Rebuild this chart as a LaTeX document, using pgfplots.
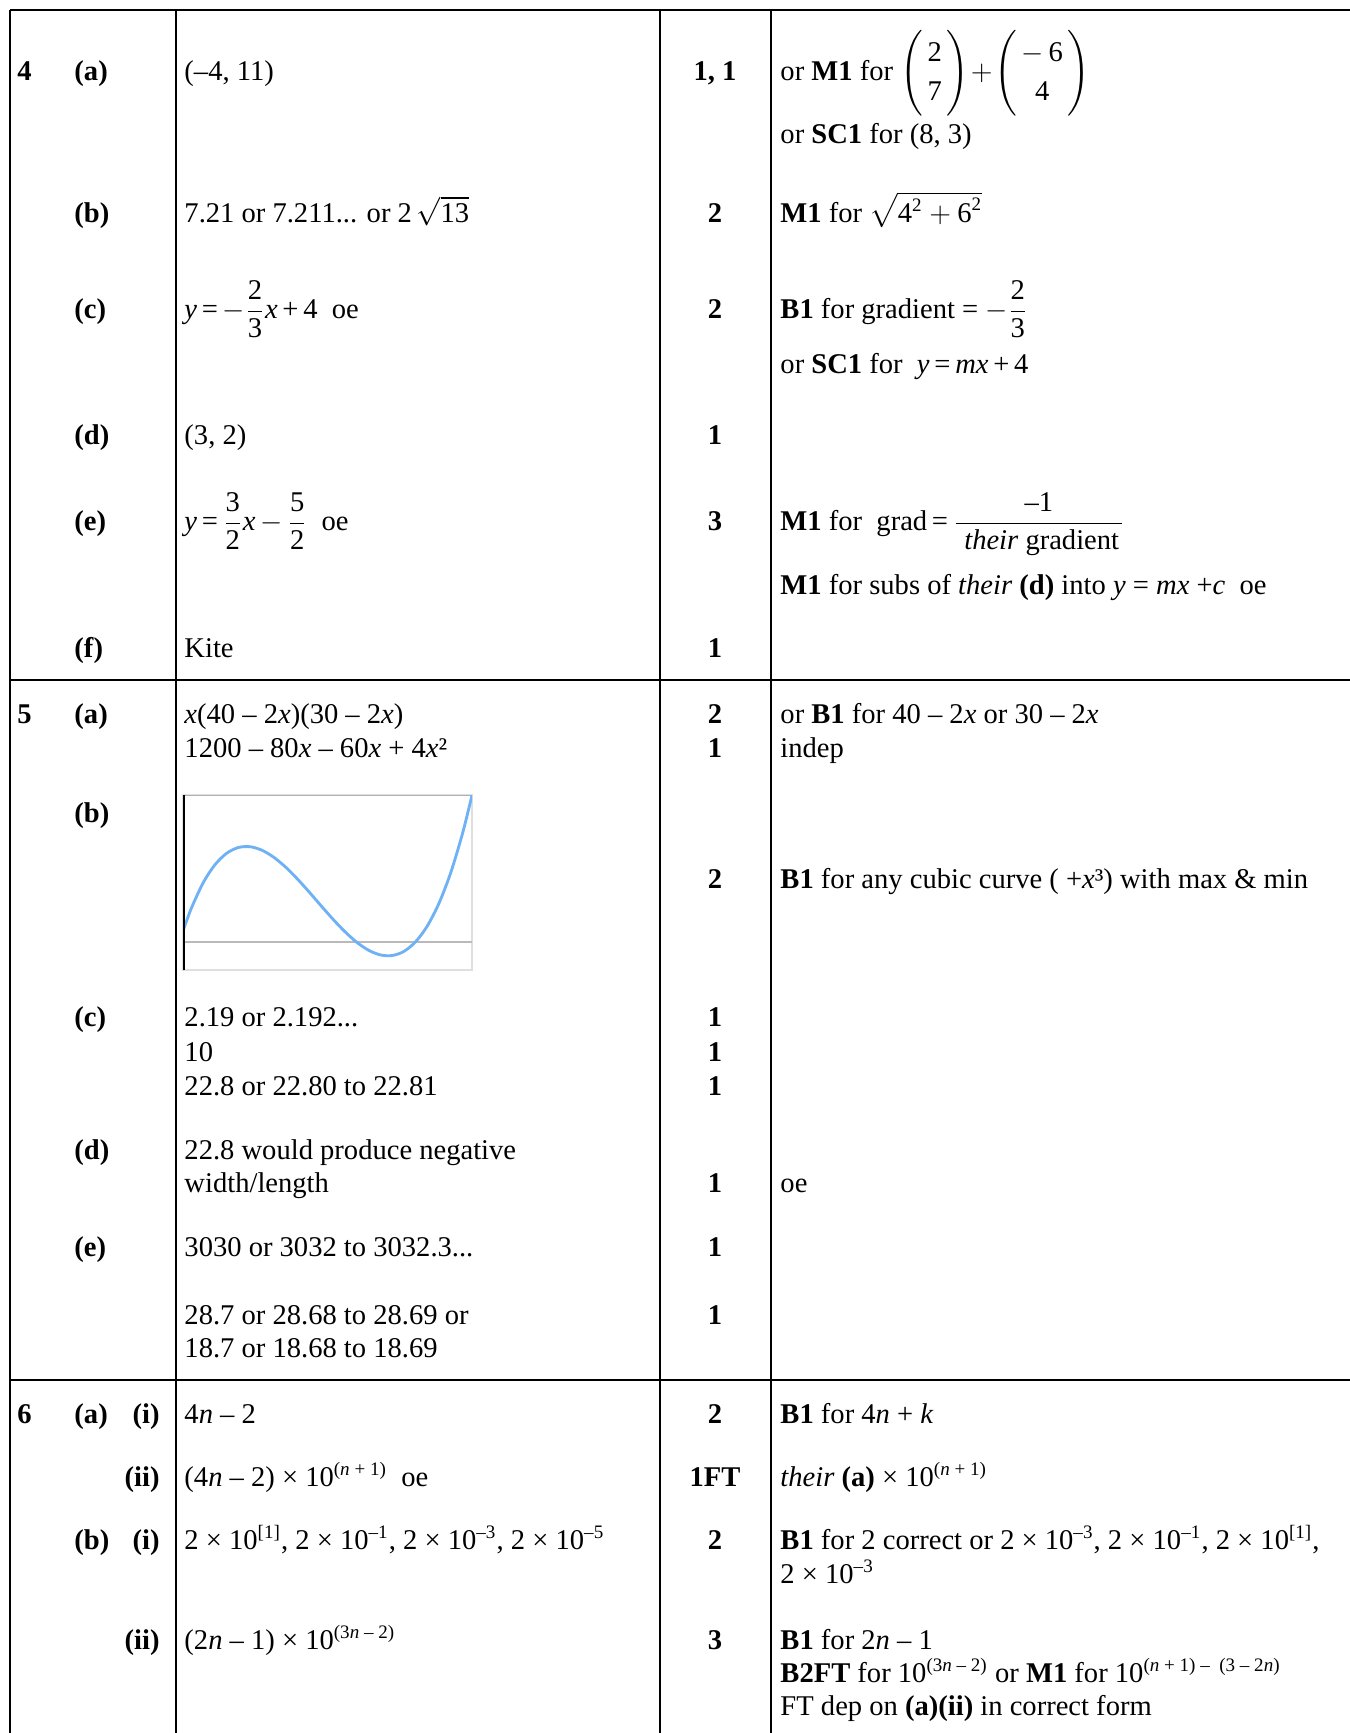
\documentclass[border=0pt]{standalone}
\usepackage{amsmath}
\usepackage{fontspec}
\setmainfont{Liberation Serif}
\usepackage{pgfplots}
\pgfplotsset{compat=1.18}

\pgfplotstableread{
x V
0.3 348
1 1064
2 1872
3 2448
4 2816
5 3000
6 3024
7 2912
8 2688
9 2376
10 2000
11 1584
12 1152
13 728
14 336
15 0
16 -256
17 -408
18 -432
19 -304
20 0
21 504
22 1232
23 2208
24 3456
24.8 4666
}\cubicdata

\newcommand{\fr}[2]{\dfrac{\text{#1}}{\text{#2}}}
\newcommand{\sps}[1]{\textsuperscript{#1}}
\newcommand{\vect}[2]{\renewcommand{\arraystretch}{1.15}\left(\begin{tabular}{@{\,}c@{\,}}#1\\ #2\end{tabular}\right)}

\begin{document}
\begin{tikzpicture}[x=0.42pt,y=-0.42pt,
  t/.style={anchor=west,inner sep=0pt,text height=0.7em,text depth=0pt,font=\fontsize{12}{14}\selectfont},
  m/.style={t,anchor=center,font=\fontsize{12}{14}\selectfont\bfseries},
  b/.style={t,font=\fontsize{12}{14}\selectfont\bfseries},
  r/.style={b,anchor=east}]
\useasboundingbox (0,0) rectangle (1350,1733);

% rules
\begin{scope}[line width=1.1pt]
\draw (10,10) -- (1350,10);
\draw (10,680) -- (1350,680);
\draw (10,1380) -- (1350,1380);
\foreach \cx in {10,176,660,771} \draw (\cx,10) -- (\cx,1733);
\end{scope}

% ---- question 4
\node[b] at (17,72) {4};
\node[b] at (74,72) {(a)};
\node[t] at (184,72) {(–4, 11)};
\node[m] at (715,72) {1, 1};
\node[t] at (780,72) {or \textbf{M1} for $\vect{2}{7}\!+\!\vect{$-$\,6}{4}$};
\node[t] at (780,135) {or \textbf{SC1} for (8, 3)};

\node[b] at (74,214) {(b)};
\node[t] at (184,214) {7.21 or 7.211... or 2\,$\sqrt{\text{13}}$};
\node[m] at (715,214) {2};
\node[t] at (780,214) {\textbf{M1} for $\sqrt{\text{4}^{\text{2}}+\text{6}^{\text{2}}}$};

\node[b] at (74,310) {(c)};
\node[t] at (184,310) {\textit{y}\,=\,$-\fr{2}{3}$\textit{x}\,+\,4~~oe};
\node[m] at (715,310) {2};
\node[t] at (780,310) {\textbf{B1} for gradient = $-\fr{2}{3}$};
\node[t] at (780,365) {or \textbf{SC1} for ~\textit{y}\,=\,\textit{mx}\,+\,4};

\node[b] at (74,436) {(d)};
\node[t] at (184,436) {(3, 2)};
\node[m] at (715,436) {1};

\node[b] at (74,522) {(e)};
\node[t] at (184,522) {\textit{y}\,=\,$\fr{3}{2}$\textit{x}\,$-$\,$\fr{5}{2}$~~oe};
\node[m] at (715,522) {3};
\node[t] at (780,522) {\textbf{M1} for ~grad\,=\,$\dfrac{\text{–1}}{\hspace{0.3em}\text{\textit{their} gradient}\hspace{0.1em}}$};
\node[t] at (780,586) {\textbf{M1} for subs of \textit{their} \textbf{(d)} into \textit{y} = \textit{mx} +\textit{c} ~oe};

\node[b] at (74,649) {(f)};
\node[t] at (184,649) {Kite};
\node[m] at (715,649) {1};

% ---- question 5
\node[b] at (17,715) {5};
\node[b] at (74,715) {(a)};
\node[t] at (184,715) {\textit{x}(40 – 2\textit{x})(30 – 2\textit{x})};
\node[m] at (715,715) {2};
\node[t] at (780,715) {or \textbf{B1} for 40 – 2\textit{x} or 30 – 2\textit{x}};
\node[t] at (184,749) {1200 – 80\textit{x} – 60\textit{x} + 4\textit{x}²};
\node[m] at (715,749) {1};
\node[t] at (780,749) {indep};

\node[b] at (74,814) {(b)};
\node[m] at (715,880) {2};
\node[t] at (780,880) {\textbf{B1} for any cubic curve ( +\textit{x}³) with max \& min};

\begin{axis}[
  at={(76.86pt,-407.4pt)}, anchor=south west,
  scale only axis, width=121.4pt, height=73.5pt,
  xmin=0.3, xmax=24.8, ymin=-890, ymax=4666,
  ticks=none,
  axis line style={gray!25,line width=0.8pt},
]
\draw[gray!55,line width=1.1pt] (axis cs:0.3,0) -- (axis cs:24.8,0);
\draw[gray!60,line width=1pt] (rel axis cs:0,1) -- (rel axis cs:1,1);
\addplot[smooth,color={rgb,255:red,110;green,178;blue,245},line width=1.2pt] table[x=x,y=V] {\cubicdata};
\draw[black,line width=1.5pt] (rel axis cs:0,0) -- (rel axis cs:0,1);
\end{axis}

\node[b] at (74,1018) {(c)};
\node[t] at (184,1018) {2.19 or 2.192...};
\node[m] at (715,1018) {1};
\node[t] at (184,1053) {10};
\node[m] at (715,1053) {1};
\node[t] at (184,1087) {22.8 or 22.80 to 22.81};
\node[m] at (715,1087) {1};

\node[b] at (74,1151) {(d)};
\node[t] at (184,1151) {22.8 would produce negative};
\node[t] at (184,1184) {width/length};
\node[m] at (715,1184) {1};
\node[t] at (780,1184) {oe};

\node[b] at (74,1248) {(e)};
\node[t] at (184,1248) {3030 or 3032 to 3032.3...};
\node[m] at (715,1248) {1};
\node[t] at (184,1316) {28.7 or 28.68 to 28.69 or};
\node[m] at (715,1316) {1};
\node[t] at (184,1349) {18.7 or 18.68 to 18.69};

% ---- question 6
\node[b] at (17,1415) {6};
\node[b] at (74,1415) {(a)};
\node[r] at (160,1415) {(i)};
\node[t] at (184,1415) {4\textit{n} – 2};
\node[m] at (715,1415) {2};
\node[t] at (780,1415) {\textbf{B1} for 4\textit{n} + \textit{k}};

\node[r] at (160,1478) {(ii)};
\node[t] at (184,1478) {(4\textit{n} – 2) × 10\sps{(\textit{n} + 1)} ~oe};
\node[m] at (715,1478) {1FT};
\node[t] at (780,1478) {\textit{their} \textbf{(a)} × 10\sps{(\textit{n} + 1)}};

\node[b] at (74,1541) {(b)};
\node[r] at (160,1541) {(i)};
\node[t] at (184,1541) {2 × 10\sps{[1]}, 2 × 10\sps{–1}, 2 × 10\sps{–3}, 2 × 10\sps{–5}};
\node[m] at (715,1541) {2};
\node[t] at (780,1541) {\textbf{B1} for 2 correct or 2 × 10\sps{–3}, 2 × 10\sps{–1}, 2 × 10\sps{[1]},};
\node[t] at (780,1575) {2 × 10\sps{–3}};

\node[r] at (160,1641) {(ii)};
\node[t] at (184,1641) {(2\textit{n} – 1) × 10\sps{(3\textit{n} – 2)}};
\node[m] at (715,1641) {3};
\node[t] at (780,1641) {\textbf{B1} for 2\textit{n} – 1};
\node[t] at (780,1674) {\textbf{B2FT} for 10\sps{(3\textit{n} – 2)} or \textbf{M1} for 10\sps{(\textit{n} + 1) – ~(3 – 2\textit{n})}};
\node[t] at (780,1707) {FT dep on \textbf{(a)(ii)} in correct form};
\end{tikzpicture}
\end{document}
